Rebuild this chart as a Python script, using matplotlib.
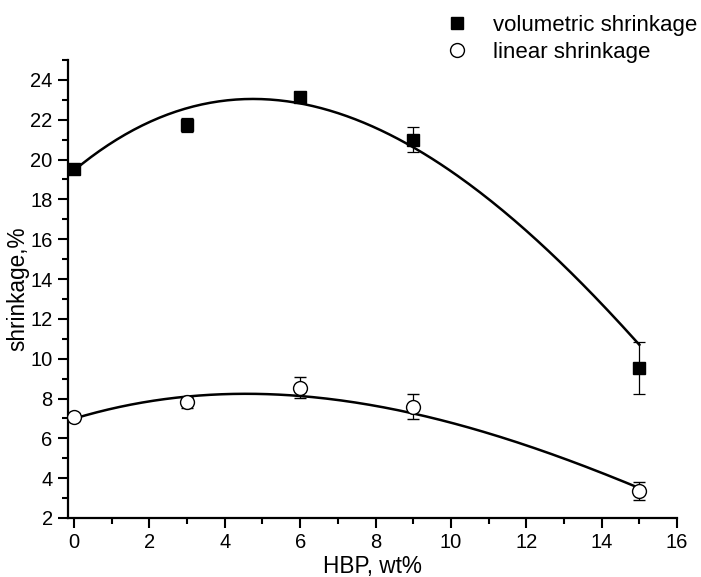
import matplotlib
matplotlib.use('Agg')
import matplotlib.pyplot as plt
import matplotlib.ticker as mticker
import numpy as np

plt.rcParams.update({
    'font.family': ['Liberation Sans', 'DejaVu Sans'],
    'font.size': 14.5,
})

# HBP content (wt%) and measured shrinkage
hbp = [0, 3, 6, 9, 15]
vol_shrink = [19.55, 21.75, 23.15, 21.0, 9.55]
vol_err = [0.15, 0.35, 0.25, 0.62, 1.3]
lin_shrink = [7.05, 7.8, 8.55, 7.58, 3.35]
lin_err = [0.2, 0.3, 0.53, 0.63, 0.45]

# trend-curve readings (cubic fits) at a few HBP contents
curve_x = [0, 3, 5, 6, 9.45, 12.1, 15]
vol_curve = [19.5, 22.45, 23.0, 22.95, 20.2, 16.1, 10.75]
lin_curve = [7.0, 8.05, 8.22, 8.2, 7.0, 5.6, 3.5]

fig = plt.figure(figsize=(7.01, 5.77), dpi=100)
ax = fig.add_axes([0.097, 0.1023, 0.8688, 0.7937])

xs = np.linspace(min(hbp), max(hbp), 200)
for ys in (vol_curve, lin_curve):
    coef = np.polyfit(curve_x, ys, 3)
    ax.plot(xs, np.polyval(coef, xs), color='black', linewidth=1.8, zorder=2)

ax.errorbar(hbp, vol_shrink, yerr=vol_err, fmt='s', color='black',
            markersize=9, ecolor='black', elinewidth=0.9, capsize=4.5,
            capthick=0.9, zorder=3, label='volumetric shrinkage')
ax.errorbar(hbp, lin_shrink, yerr=lin_err, fmt='o', color='black',
            markerfacecolor='white', markersize=10, markeredgewidth=1.0,
            ecolor='black', elinewidth=0.9, capsize=4.5, capthick=0.9,
            zorder=3, label='linear shrinkage')

ax.set_xlim(-0.16, 16)
ax.set_ylim(2, 25)
ax.xaxis.set_major_locator(mticker.MultipleLocator(2))
ax.xaxis.set_minor_locator(mticker.MultipleLocator(1))
ax.yaxis.set_major_locator(mticker.MultipleLocator(2))
ax.yaxis.set_minor_locator(mticker.MultipleLocator(1))
ax.tick_params(which='major', direction='out', length=7, width=1.5, pad=4)
ax.tick_params(which='minor', direction='out', length=4, width=1.5)

for side in ('top', 'right'):
    ax.spines[side].set_visible(False)
for side in ('left', 'bottom'):
    ax.spines[side].set_linewidth(1.6)

ax.set_xlabel('HBP, wt%', fontsize=16.3, labelpad=2)
ax.set_ylabel('shrinkage,%', fontsize=16.3, labelpad=1)

handles, labels = ax.get_legend_handles_labels()
handles = [h[0] for h in handles]
fig.legend(handles, labels, loc='upper left', bbox_to_anchor=(0.617, 0.997),
           frameon=False, fontsize=16, handlelength=1.0, handletextpad=1.1,
           labelspacing=0.25, borderaxespad=0.2)

fig.savefig('out.png', dpi=100)
